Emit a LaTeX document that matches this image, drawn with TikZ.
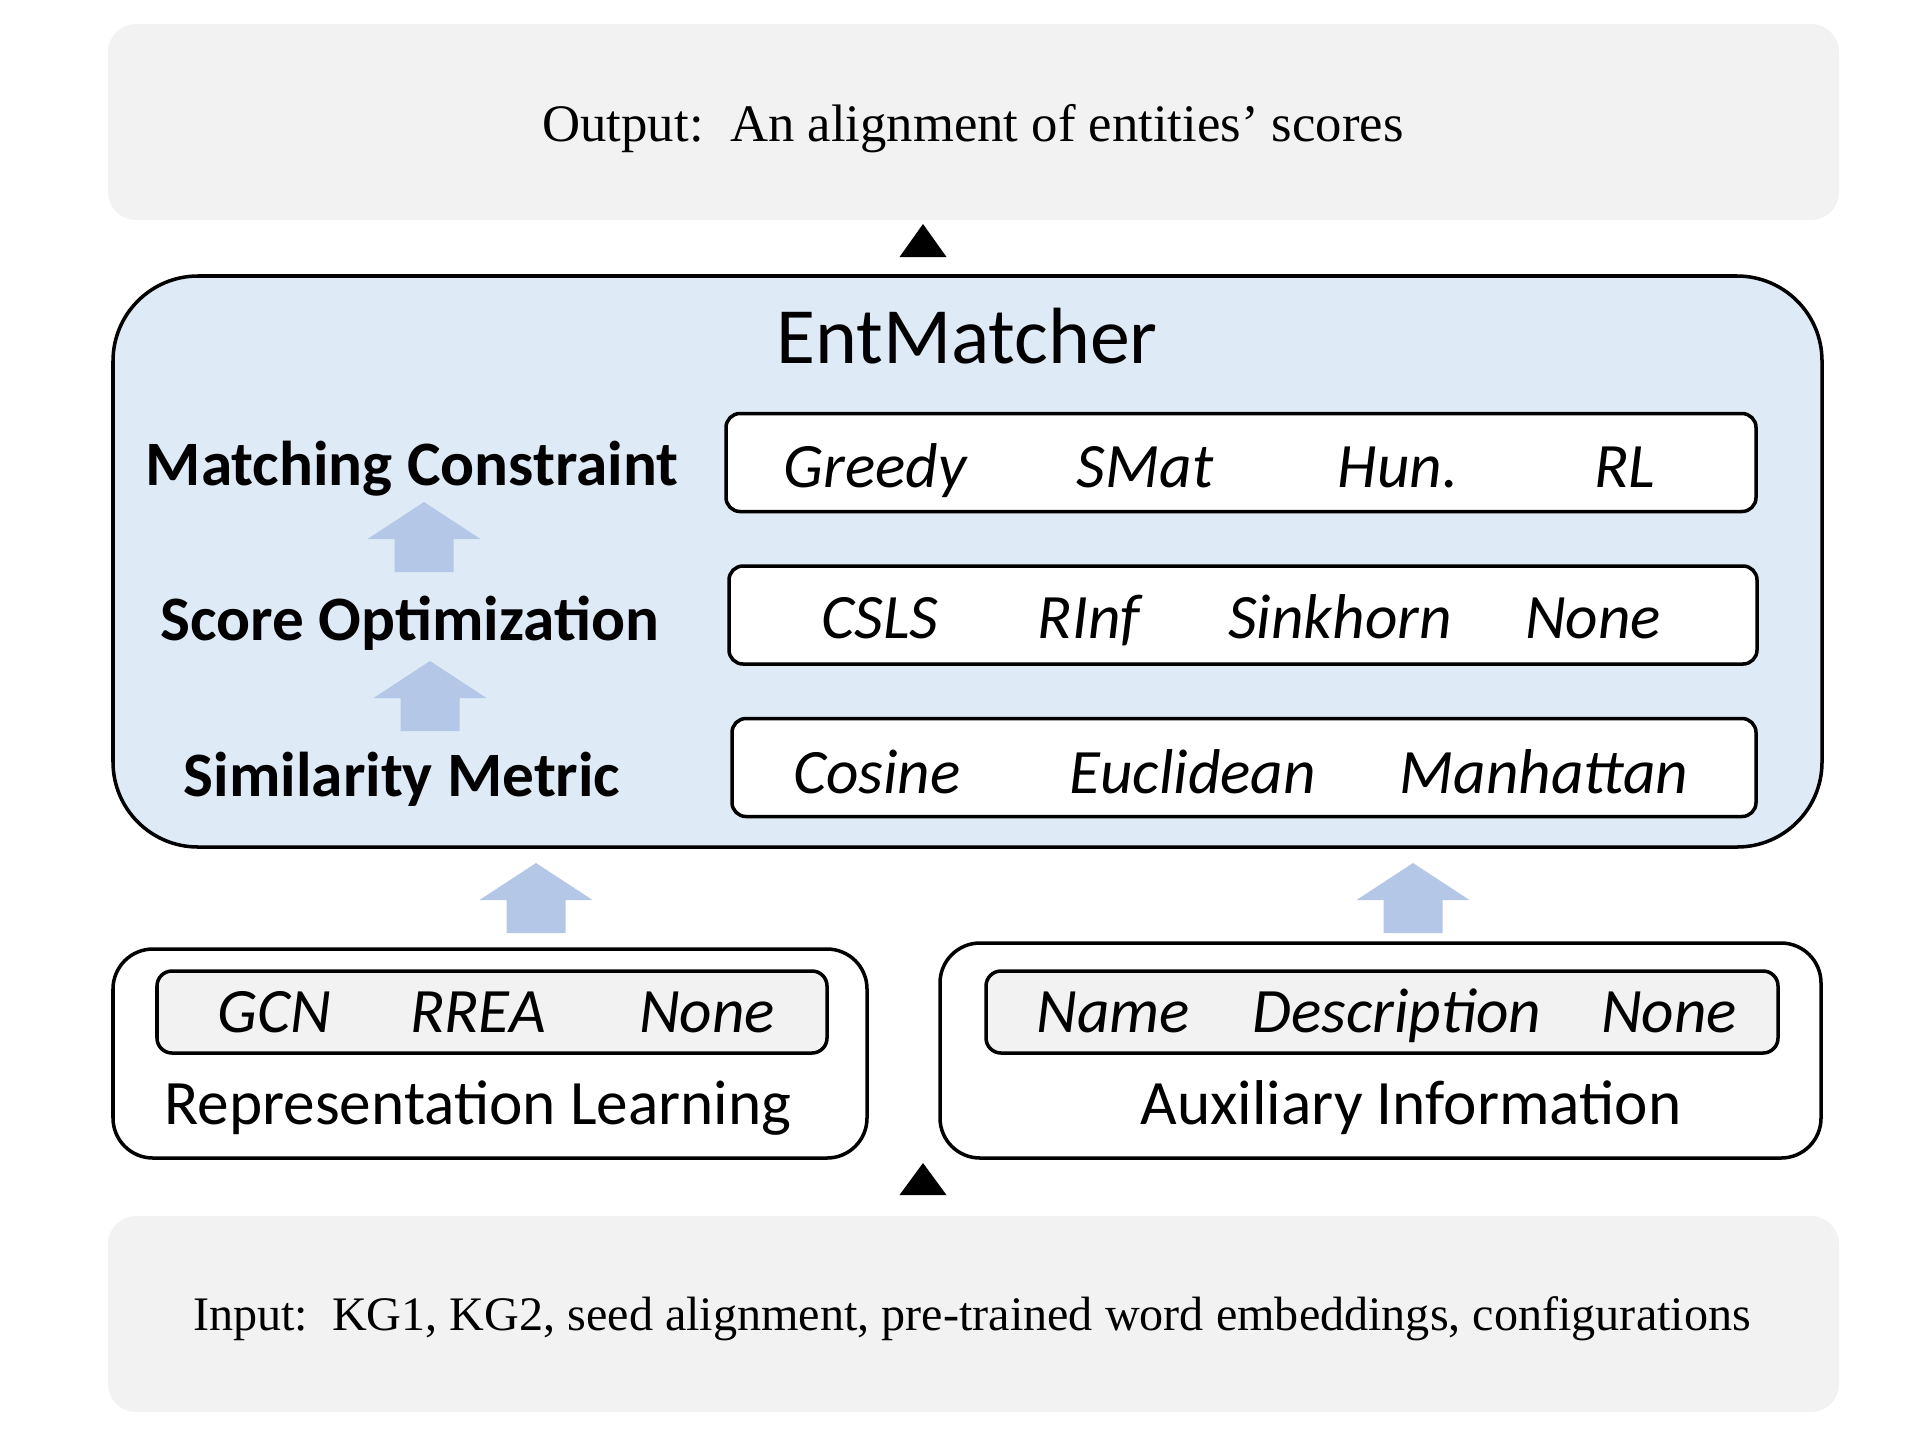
\documentclass[tikz,border=0pt]{standalone}
\usepackage{fontspec}
\setmainfont{Liberation Serif}
\setsansfont{Carlito}
\definecolor{iogray}{HTML}{F2F2F2}
\definecolor{matcherblue}{HTML}{DEEAF6}
\definecolor{upblue}{HTML}{B4C7E7}
\newcommand{\iofont}{\rmfamily\fontsize{15}{18}\selectfont}
\newcommand{\stagefont}{\sffamily\bfseries\fontsize{18}{22}\selectfont}
\newcommand{\choicefont}{\sffamily\itshape\fontsize{18}{22}\selectfont}
\newcommand{\modfont}{\sffamily\fontsize{18}{22}\selectfont}
% block arrow pointing up: x, y of the tip
\newcommand{\upblock}[2]{\fill[upblue] (#1,#2) -- ++(0.565,-0.37) -- ++(-0.27,0) -- ++(0,-0.33) -- ++(-0.59,0) -- ++(0,0.33) -- ++(-0.27,0) -- cycle;}
\tikzset{
  iobox/.style={fill=iogray, rectangle, rounded corners=0.28cm, minimum width=17.31cm, minimum height=1.96cm},
  matcher/.style={draw, line width=1pt, fill=matcherblue, rounded corners=0.85cm},
  rowbox/.style={draw, line width=1pt, fill=white, rectangle, rounded corners=0.14cm, minimum height=0.98cm},
  modbox/.style={draw, line width=1pt, fill=white, rectangle, rounded corners=0.4cm},
  optbox/.style={draw, line width=1pt, fill=iogray, rectangle, rounded corners=0.15cm, minimum height=0.82cm},
  stage/.style={anchor=base, font=\stagefont},
  choice/.style={anchor=base, font=\choicefont},
}
\begin{document}
\begin{tikzpicture}[x=1cm,y=1cm]
\useasboundingbox (0,0) rectangle (19.2,-14.4);
% output and input
\node[iobox] (out) at (9.735,-1.22) {};
\node[font=\iofont] (outtxt) at (9.73,-1.29) {Output:\ \ An alignment of entities’ scores};
\node[iobox] (in) at (9.735,-13.14) {};
\node[font=\rmfamily\fontsize{13.7}{16}\selectfont] (intxt) at (9.72,-13.19) {Input:\ \ KG1, KG2, seed alignment, pre-trained word embeddings, configurations};
\fill (9.23,-2.24) -- ++(0.235,-0.33) -- ++(-0.47,0) -- cycle;
\fill (9.23,-11.63) -- ++(0.235,-0.32) -- ++(-0.47,0) -- cycle;
% EntMatcher
\draw[matcher] (1.13,-2.76) rectangle (18.22,-8.47);
\node[font=\sffamily\fontsize{22.7}{26}\selectfont] (title) at (9.67,-3.36) {EntMatcher};
\node[stage] (mc) at (4.12,-4.85) {Matching Constraint};
\node[stage] (so) at (4.10,-6.40) {Score Optimization};
\node[stage] (sm) at (4.02,-7.96) {Similarity Metric};
\upblock{4.24}{-5.02}
\upblock{4.30}{-6.61}
\node[rowbox, minimum width=10.3cm] (mcrow) at (12.41,-4.625) {};
\node[rowbox, minimum width=10.28cm] (sorow) at (12.43,-6.15) {};
\node[rowbox, minimum width=10.24cm] (smrow) at (12.44,-7.675) {};
\node[choice] (greedy) at (8.75,-4.87) {Greedy};
\node[choice] (smat) at (11.45,-4.87) {SMat};
\node[choice] (hun) at (13.98,-4.87) {Hun.};
\node[choice] (rl) at (16.25,-4.87) {RL};
\node[choice] (csls) at (8.80,-6.38) {CSLS};
\node[choice] (rinf) at (10.89,-6.38) {RInf};
\node[choice] (sink) at (13.40,-6.38) {Sinkhorn};
\node[choice] (none) at (15.93,-6.38) {None};
\node[choice] (cos) at (8.77,-7.93) {Cosine};
\node[choice] (euc) at (11.93,-7.93) {Euclidean};
\node[choice] (man) at (15.44,-7.93) {Manhattan};
% representation learning and auxiliary information
\upblock{5.36}{-8.63}
\upblock{14.13}{-8.63}
\node[modbox, minimum width=7.54cm, minimum height=2.09cm] (rep) at (4.90,-10.535) {};
\node[optbox, minimum width=6.70cm] (repopt) at (4.92,-10.12) {};
\node[choice] (gcn) at (2.74,-10.32) {GCN};
\node[choice] (rrea) at (4.78,-10.32) {RREA};
\node[choice] (repnone) at (7.07,-10.32) {None};
\node[anchor=base, font=\modfont] (replbl) at (4.78,-11.24) {Representation Learning};
\node[modbox, minimum width=8.81cm, minimum height=2.15cm] (aux) at (13.805,-10.505) {};
\node[optbox, minimum width=7.92cm] (auxopt) at (13.82,-10.12) {};
\node[choice] (name) at (11.13,-10.32) {Name};
\node[choice] (desc) at (13.97,-10.32) {Description};
\node[choice] (auxnone) at (16.69,-10.32) {None};
\node[anchor=base, font=\modfont] (auxlbl) at (14.11,-11.24) {Auxiliary Information};
\end{tikzpicture}
\end{document}
